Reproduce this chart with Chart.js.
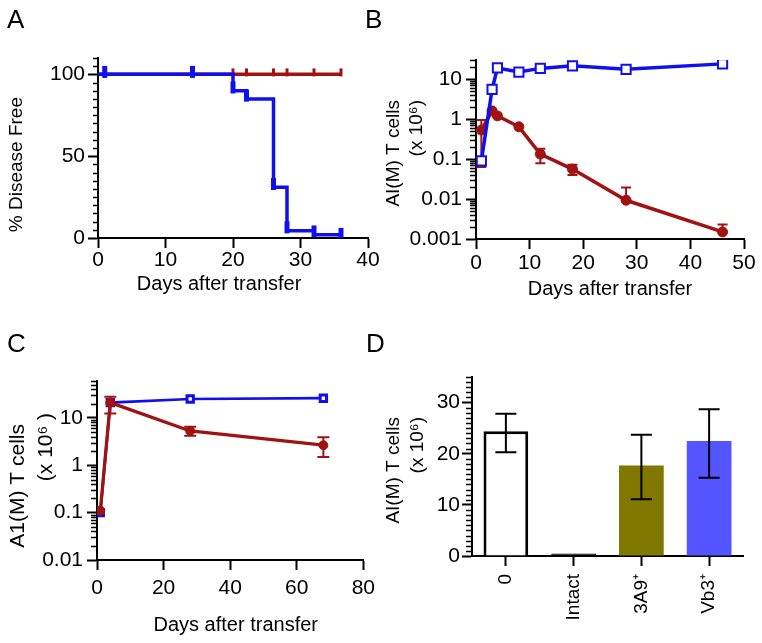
<!DOCTYPE html>
<html>
<head>
<meta charset="utf-8">
<script src="https://cdn.jsdelivr.net/npm/chart.js@4.4.1/dist/chart.umd.min.js"></script>
<style>
  html, body { margin: 0; padding: 0; background: #fff; }
  #wrap { position: relative; width: 762px; height: 643px; font-family: 'Liberation Sans', Arial, sans-serif; }
  #wrap canvas { position: absolute; }
  .lbl { position: absolute; font-size: 26px; line-height: 1; color: #000; }
</style>
</head>
<body>
<div id="wrap">
  <canvas id="chartA" width="381" height="320" style="left:0;top:0"></canvas>
  <canvas id="chartB" width="381" height="320" style="left:381px;top:0"></canvas>
  <canvas id="chartC" width="381" height="323" style="left:0;top:320px"></canvas>
  <canvas id="chartD" width="381" height="323" style="left:381px;top:320px"></canvas>
  <div class="lbl" style="left:7px;top:6px">A</div>
  <div class="lbl" style="left:365px;top:6px">B</div>
  <div class="lbl" style="left:7px;top:330px">C</div>
  <div class="lbl" style="left:366px;top:330px">D</div>
</div>
<script>
const FONT = "'Liberation Sans', Arial, Helvetica, sans-serif";
const BLUE = '#1010ee';
const RED = '#a11212';

// Panel A - % disease free
const aBlueDays = [0, 20, 22, 26, 28, 32, 36];
const aBluePct = [100, 90, 85, 31, 4.5, 2, 2];
const aBlueCensorDays = [1, 14, 20, 22, 26, 28, 32, 36];
const aBlueCensorPct = [101.5, 101.5, 92, 87, 33, 6.5, 4, 2.5];
const aRedDays = [0, 36];
const aRedPct = [100, 100];
const aRedCensorDays = [20, 22, 26, 28, 32, 36];
const aRedCensorPct = [101.2, 101.2, 101.2, 101.2, 101.2, 101.2];
const aXTicks = [0, 10, 20, 30, 40];
const aYTicks = [0, 50, 100];

// Panel B - AI(M) T cells, log scale
const bDays = [1, 3, 4, 8, 12, 18, 28, 46];
const bBlue = [0.09, 5.5, 19, 15, 18.5, 21.5, 17.5, 24];
const bRed = [0.53, 1.6, 1.2, 0.64, 0.133, 0.056, 0.0093, 0.0015];
const bRedHi = [0.95, null, null, null, 0.18, 0.072, 0.0195, 0.0023];
const bRedLo = [0.063, null, null, null, 0.079, 0.04, null, null];
const bXTicks = [0, 10, 20, 30, 40, 50];
const bYTicks = [0.001, 0.01, 0.1, 1, 10];

// Panel C - A1(M) T cells, log scale
const cDays = [1, 4, 28, 68];
const cBlue = [0.1, 21, 25, 26];
const cRed = [0.11, 21, 5.3, 2.65];
const cRedHi = [null, 28, 6.5, 3.9];
const cRedLo = [null, 12.4, 4.2, 1.5];
const cXTicks = [0, 20, 40, 60, 80];
const cYTicks = [0.01, 0.1, 1, 10];

// Panel D - bars
const dLabels = ['0', 'Intact', '3A9\u207A', 'Vb3\u207A'];
const dValues = [24.4, 0.5, 17.7, 22.5];
const dErrLo = [20.3, null, 11.1, 15.3];
const dErrHi = [27.8, null, 23.7, 28.7];
const dYTicks = [0, 10, 20, 30];

function pts(xs, ys) { return xs.map((x, i) => ({ x: x, y: ys[i] })); }

function logMinors(min, max) {
  const out = [];
  for (let d = min; d < max; d *= 10) {
    for (let k = 2; k < 10; k++) if (k * d <= max * 1.0001) out.push(k * d);
  }
  return out;
}
function linMinors(step, max, every) {
  const out = [];
  for (let v = step; v <= max + 1e-9; v += step) {
    if (Math.abs(v / every - Math.round(v / every)) > 1e-6) out.push(v);
  }
  return out;
}

// small plugins: minor ticks, y-axis titles, error bars
function minorTicks(values, len) {
  return {
    id: 'minorTicks',
    afterDraw(chart) {
      const s = chart.scales.y, ctx = chart.ctx;
      ctx.save();
      ctx.strokeStyle = '#000';
      ctx.lineWidth = 1.5;
      ctx.beginPath();
      values.forEach(v => {
        const y = Math.round(s.getPixelForValue(v)) + 0.5;
        ctx.moveTo(s.right - len, y);
        ctx.lineTo(s.right, y);
      });
      ctx.stroke();
      ctx.restore();
    }
  };
}
function sideTitle(lines) {
  return {
    id: 'sideTitle',
    afterDraw(chart) {
      const ctx = chart.ctx;
      lines.forEach(l => {
        ctx.save();
        ctx.fillStyle = '#000';
        ctx.font = l.size + 'px ' + FONT;
        ctx.textAlign = 'right';
        ctx.textBaseline = 'middle';
        ctx.translate(l.x, l.y);
        ctx.rotate(-Math.PI / 2);
        ctx.fillText(l.text, 0, 0);
        ctx.restore();
      });
    }
  };
}
function errorBars(set, layer) {
  function draw(chart) {
    const ctx = chart.ctx, ys = chart.scales.y;
    const meta = chart.getDatasetMeta(set.dataset);
    ctx.save();
    ctx.strokeStyle = set.color;
    ctx.lineWidth = set.width;
    meta.data.forEach((el, i) => {
      const lo = set.lo[i], hi = set.hi[i];
      if (lo == null && hi == null) return;
      const x = el.x, c = set.cap / 2;
      const yl = lo == null ? el.y : ys.getPixelForValue(lo);
      const yh = hi == null ? el.y : ys.getPixelForValue(hi);
      ctx.beginPath();
      ctx.moveTo(x, yl); ctx.lineTo(x, yh);
      if (lo != null) { ctx.moveTo(x - c, yl); ctx.lineTo(x + c, yl); }
      if (hi != null) { ctx.moveTo(x - c, yh); ctx.lineTo(x + c, yh); }
      ctx.stroke();
    });
    ctx.restore();
  }
  return {
    id: 'errorBars',
    beforeDatasetsDraw(chart) { if (layer === 'before') draw(chart); },
    afterDatasetsDraw(chart) { if (layer !== 'before') draw(chart); }
  };
}

const axisBorder = { display: true, color: '#000', width: 2 };
const axisGrid = { drawOnChartArea: false, drawTicks: true, tickLength: 10, tickWidth: 2, tickColor: '#000' };

function xLinear(min, max, ticks, title, titlePad, labelPad, height) {
  return {
    type: 'linear', min: min, max: max,
    afterBuildTicks: s => { s.ticks = ticks.map(v => ({ value: v })); },
    afterFit: s => { s.height = height; },
    border: axisBorder,
    grid: axisGrid,
    ticks: { color: '#000', font: { family: FONT, size: 21 }, padding: labelPad, maxRotation: 0, autoSkip: false },
    title: { display: true, text: title, color: '#000', font: { family: FONT, size: 20 }, padding: { top: 0, bottom: titlePad } }
  };
}
function yAxis(type, min, max, ticks, width, labelPad) {
  return {
    type: type, min: min, max: max,
    afterBuildTicks: s => { s.ticks = ticks.map(v => ({ value: v })); },
    afterFit: s => { s.width = width; },
    border: axisBorder,
    grid: axisGrid,
    ticks: { color: '#000', font: { family: FONT, size: 21 }, padding: labelPad, autoSkip: false, callback: v => String(v) }
  };
}
const baseOpts = {
  responsive: false, animation: false, devicePixelRatio: 1,
  plugins: { legend: { display: false }, tooltip: { enabled: false } }
};

// A
new Chart(document.getElementById('chartA'), {
  type: 'line',
  data: {
    datasets: [
      { data: pts(aBlueCensorDays, aBlueCensorPct), showLine: false, pointStyle: 'line', rotation: 90,
        pointRadius: 6, pointBorderWidth: 5, pointBorderColor: BLUE, borderColor: BLUE },
      { data: pts(aBlueDays, aBluePct), stepped: 'before', borderColor: BLUE, borderWidth: 3.5, pointRadius: 0 },
      { data: pts(aRedCensorDays, aRedCensorPct), showLine: false, pointStyle: 'line', rotation: 90,
        pointRadius: 4, pointBorderWidth: 3, pointBorderColor: RED, borderColor: RED },
      { data: pts(aRedDays, aRedPct), stepped: 'before', borderColor: RED, borderWidth: 3.5, pointRadius: 0 }
    ]
  },
  options: Object.assign({}, baseOpts, {
    layout: { padding: { top: 58, right: 13, left: 0, bottom: 0 } },
    scales: {
      x: xLinear(0, 40, aXTicks, 'Days after transfer     ', 24, 0, 82),
      y: yAxis('linear', 0, 110, aYTicks, 98, 3)
    }
  }),
  plugins: [minorTicks(linMinors(5, 110, 50), 5),
            sideTitle([{ text: '% Disease Free', x: 17, y: 97, size: 19 }])]
});

// B
new Chart(document.getElementById('chartB'), {
  type: 'line',
  data: {
    datasets: [
      { data: pts(bDays, bBlue), borderColor: BLUE, borderWidth: 3.5, pointStyle: 'rect', pointRadius: 6.5,
        pointBorderWidth: 2, pointBackgroundColor: '#fff', pointBorderColor: BLUE },
      { data: pts(bDays, bRed), borderColor: RED, borderWidth: 3.5, pointStyle: 'circle', pointRadius: 5,
        pointBorderWidth: 1, pointBackgroundColor: RED, pointBorderColor: RED }
    ]
  },
  options: Object.assign({}, baseOpts, {
    layout: { padding: { top: 60, right: 18, left: 0, bottom: 0 } },
    scales: {
      x: xLinear(0, 50, bXTicks, 'Days after transfer', 19, 2, 81),
      y: yAxis('logarithmic', 0.001, 30, bYTicks, 95, 4)
    }
  }),
  plugins: [minorTicks(logMinors(0.001, 30), 6),
            errorBars({ dataset: 1, lo: bRedLo, hi: bRedHi, color: RED, width: 2, cap: 10 }, 'before'),
            sideTitle([{ text: 'AI(M) T cells', x: 13, y: 100, size: 19 },
                       { text: '(x 10\u2076)', x: 36, y: 100, size: 19 }])]
});

// C
new Chart(document.getElementById('chartC'), {
  type: 'line',
  data: {
    datasets: [
      { data: pts(cDays, cRed), borderColor: RED, borderWidth: 3.3, pointStyle: 'circle', pointRadius: 4.5,
        pointBorderWidth: 1, pointBackgroundColor: RED, pointBorderColor: RED },
      { data: pts(cDays, cBlue), borderColor: BLUE, borderWidth: 2.7, pointStyle: 'rect', pointRadius: 4.5,
        pointBorderWidth: 3, pointBackgroundColor: '#fff', pointBorderColor: BLUE }
    ]
  },
  options: Object.assign({}, baseOpts, {
    layout: { padding: { top: 61, right: 14, left: 0, bottom: 0 } },
    scales: {
      x: xLinear(0, 80, cXTicks, '  Days after transfer', 6, 6, 83),
      y: yAxis('logarithmic', 0.01, 60, cYTicks, 97, 4)
    }
  }),
  plugins: [minorTicks(logMinors(0.01, 60), 6),
            errorBars({ dataset: 0, lo: cRedLo, hi: cRedHi, color: RED, width: 2, cap: 12 }, 'before'),
            sideTitle([{ text: 'A1(M) T cells', x: 18, y: 104, size: 21 },
                       { text: '(x 10\u2076 )', x: 46, y: 93, size: 21 }])]
});

// D
new Chart(document.getElementById('chartD'), {
  type: 'bar',
  data: {
    labels: dLabels,
    datasets: [{
      data: dValues,
      backgroundColor: ['#ffffff', '#000000', '#807800', '#5555ff'],
      borderColor: ['#000000', '#000000', '#807800', '#5555ff'],
      borderWidth: [3, 1, 0, 0],
      categoryPercentage: 1, barPercentage: 0.66
    }]
  },
  options: Object.assign({}, baseOpts, {
    layout: { padding: { top: 57, right: 19, left: 0, bottom: 0 } },
    scales: {
      x: {
        type: 'category', offset: true,
        afterFit: s => { s.height = 87; },
        border: axisBorder,
        grid: Object.assign({}, axisGrid, { offset: false }),
        ticks: { color: '#000', font: { family: FONT, size: 19 }, padding: 8, minRotation: 90, maxRotation: 90, autoSkip: false }
      },
      y: yAxis('linear', 0, 35, dYTicks, 91, 2)
    }
  }),
  plugins: [minorTicks(linMinors(1, 35, 10), 6),
            errorBars({ dataset: 0, lo: dErrLo, hi: dErrHi, color: '#000', width: 2, cap: 21 }, 'after'),
            sideTitle([{ text: 'AI(M) T cells', x: 13, y: 97, size: 19 },
                       { text: '(x 10\u2076)', x: 37, y: 97, size: 19 }])]
});
</script>
</body>
</html>
